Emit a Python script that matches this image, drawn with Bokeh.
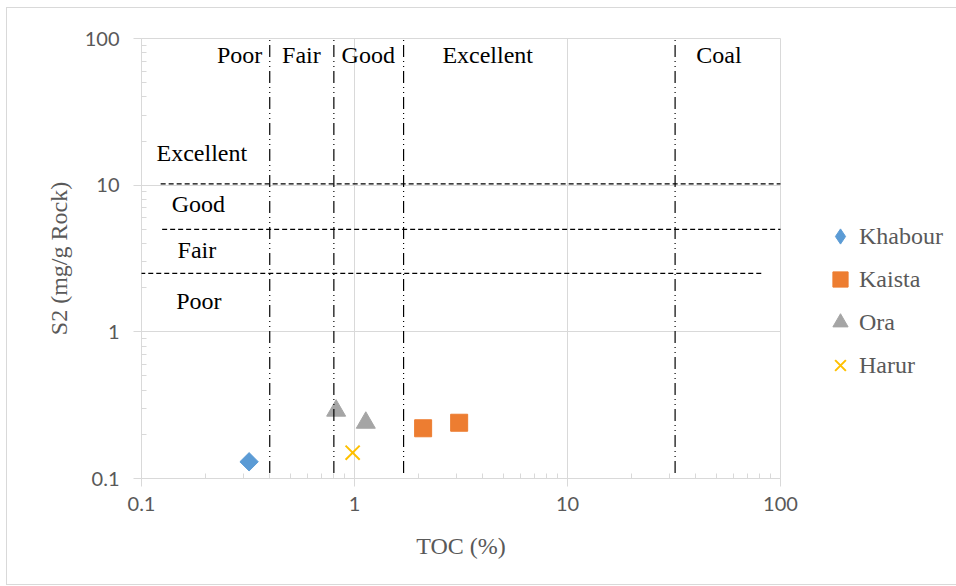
from bokeh.plotting import figure
from bokeh.models import (ColumnDataSource, FixedTicker, BasicTickFormatter, Legend,
                          LegendItem, Arrow, Label)
from bokeh.embed import file_html
from bokeh.resources import INLINE
import math

# ---- data ----
series_names = ["Khabour", "Kaista", "Ora", "Harur"]
khabour_toc = [0.32]
khabour_s2 = [0.13]
kaista_toc = [2.1, 3.1]
kaista_s2 = [0.22, 0.24]
ora_toc = [0.82, 1.13]
ora_s2 = [0.29, 0.24]
harur_toc = [0.98]
harur_s2 = [0.15]

# classification boundaries
toc_bounds = [0.4, 0.8, 1.7, 32]
s2_bounds = [10.2, 5.0, 2.5]
toc_labels = ["Poor", "Fair", "Good", "Excellent", "Coal"]
toc_label_x = [0.289, 0.563, 1.16, 4.22, 51.4]
s2_labels = ["Excellent", "Good", "Fair", "Poor"]
s2_label_x = [0.192, 0.185, 0.182, 0.186]
s2_label_y = [16.7, 7.48, 3.63, 1.63]

axis_ticks = [0.1, 1, 10, 100]
minor = [d * m for d in [0.1, 1, 10] for m in range(2, 10)]

SERIF = "Liberation Serif"
SANS = "Lato"
GRAY = "#595959"
LIGHT = "#d9d9d9"

p = figure(width=944, height=576, frame_width=639, frame_height=440,
           x_axis_type="log", y_axis_type="log",
           x_range=(0.1, 100), y_range=(0.1, 100),
           output_backend="svg", toolbar_location=None,
           min_border_left=134, min_border_top=30, min_border_right=171,
           min_border_bottom=106)
p.styles = {"border": "1px solid #d9d9d9", "margin-left": "6px", "margin-top": "7px"}
p.background_fill_color = "white"
p.border_fill_color = "white"
p.outline_line_color = LIGHT

for ax in (p.xaxis[0], p.yaxis[0]):
    ax.ticker = FixedTicker(ticks=axis_ticks, minor_ticks=minor)
    ax.formatter = BasicTickFormatter()
    ax.axis_line_color = LIGHT
    ax.major_tick_line_color = LIGHT
    ax.minor_tick_line_color = LIGHT
    ax.major_tick_in = 0
    ax.major_tick_out = 8
    ax.minor_tick_in = 5
    ax.minor_tick_out = 0
    ax.major_label_text_font = SANS
    ax.major_label_text_font_size = "20px"
    ax.major_label_text_color = GRAY
    ax.axis_label_text_font = SERIF
    ax.axis_label_text_font_size = "24px"
    ax.axis_label_text_font_style = "normal"
    ax.axis_label_text_color = GRAY

p.xaxis.axis_label = "TOC (%)"
p.yaxis.axis_label = "S2 (mg/g Rock)"
p.xaxis.major_label_standoff = 10
p.yaxis.major_label_standoff = 14
p.xaxis.axis_label_standoff = 19
p.yaxis.axis_label_standoff = 10

for g in (p.xgrid[0], p.ygrid[0]):
    g.ticker = FixedTicker(ticks=axis_ticks)
    g.grid_line_color = LIGHT
    g.grid_line_width = 1

# boundary lines
v_src = ColumnDataSource(dict(x0=toc_bounds, x1=toc_bounds,
                              y0=[0.109] * len(toc_bounds), y1=[104.7] * len(toc_bounds)))
p.add_layout(Arrow(end=None, x_start="x0", y_start="y0", x_end="x1", y_end="y1",
                   source=v_src, line_color="black", line_width=1.2,
                   line_dash="12 4 1 4 1 4"))
h_src = ColumnDataSource(dict(x0=[0.123, 0.125, 0.083], x1=[123, 125, 82.8],
                              y0=s2_bounds, y1=s2_bounds))
p.add_layout(Arrow(end=None, x_start="x0", y_start="y0", x_end="x1", y_end="y1",
                   source=h_src, line_color="black", line_width=1.2, line_dash="5 3"))

# classification labels
for t, x in zip(toc_labels, toc_label_x):
    p.add_layout(Label(x=x, y=77.6, text=t, text_align="center", text_baseline="middle",
                       text_font=SERIF, text_font_size="24px", text_color="black"))
for t, x, y in zip(s2_labels, s2_label_x, s2_label_y):
    p.add_layout(Label(x=x, y=y, text=t, text_align="center", text_baseline="middle",
                       text_font=SERIF, text_font_size="24px", text_color="black"))

# data
# diamond proxy for the legend (hidden beneath the rotated square; legend ignores angle)
r_kh_leg = p.scatter(khabour_toc, khabour_s2, marker="diamond", size=11,
                     fill_color="#5B9BD5", line_color="#5B9BD5")
r_kh = p.scatter(khabour_toc, khabour_s2, marker="square", angle=math.pi / 4, size=13,
                 fill_color="#5B9BD5", line_color="#5B9BD5")
r_ka = p.scatter(kaista_toc, kaista_s2, marker="square", size=17,
                 fill_color="#ED7D31", line_color="#ED7D31")
r_or = p.scatter(ora_toc, ora_s2, marker="triangle", size=19,
                 fill_color="#A5A5A5", line_color="#A5A5A5")
r_ha = p.scatter(harur_toc, harur_s2, marker="x", size=20,
                 line_color="#FFC000", line_width=2)

legend = Legend(items=[LegendItem(label=series_names[0], renderers=[r_kh_leg]),
                       LegendItem(label=series_names[1], renderers=[r_ka]),
                       LegendItem(label=series_names[2], renderers=[r_or]),
                       LegendItem(label=series_names[3], renderers=[r_ha])],
                location=(41, 94), glyph_width=38, glyph_height=38, spacing=5,
                label_standoff=0, padding=0, margin=0, border_line_color=None,
                background_fill_alpha=0, label_text_font=SERIF,
                label_text_font_size="24px", label_text_color=GRAY)
p.add_layout(legend, "right")

open("out.html", "w").write(file_html(p, INLINE))
